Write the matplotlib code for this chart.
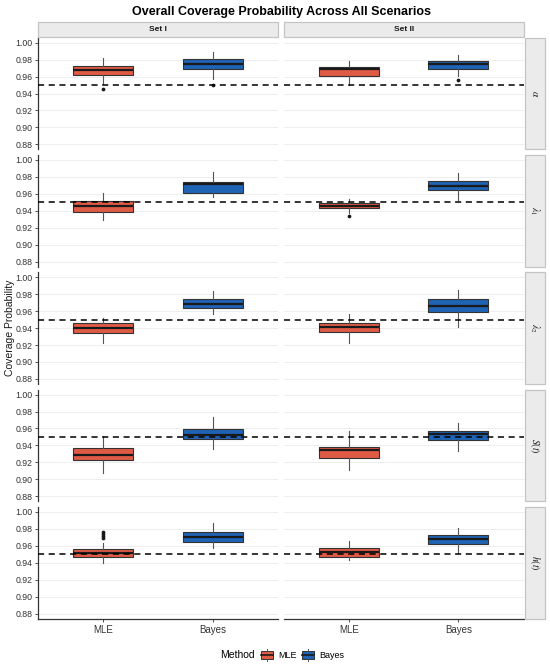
import matplotlib
matplotlib.use('Agg')
import matplotlib.pyplot as plt
from matplotlib.patches import Rectangle
from matplotlib.lines import Line2D

plt.rcParams['font.family'] = ['Liberation Sans', 'DejaVu Sans']
plt.rcParams['mathtext.fontset'] = 'stix'

W, H = 550, 665

# facet labels and groups
params = [r'$\alpha$', r'$\lambda_1$', r'$\lambda_2$', r'$S(t)$', r'$h(t)$']
sets = ['Set I', 'Set II']
methods = ['MLE', 'Bayes']
colors = {'MLE': '#E05B46', 'Bayes': '#1F63B5'}
nominal = 0.95
yticks = [0.88, 0.90, 0.92, 0.94, 0.96, 0.98, 1.00]

# boxplot stats, indexed [param][set][method]
whis_lo = [[[0.951, 0.9568], [0.950, 0.9607]],
           [[0.9292, 0.9567], [0.9377, 0.9528]],
           [[0.9228, 0.9567], [0.9228, 0.9417]],
           [[0.9071, 0.9359], [0.9111, 0.9331]],
           [[0.9391, 0.9568], [0.9430, 0.9509]]]
q1 = [[[0.9622, 0.9690], [0.9610, 0.9693]],
      [[0.9381, 0.9607], [0.9430, 0.9646]],
      [[0.9339, 0.9641], [0.9358, 0.9587]],
      [[0.9229, 0.9477], [0.9253, 0.9460]],
      [[0.9469, 0.9642], [0.9469, 0.9619]]]
med = [[[0.9678, 0.9745], [0.9685, 0.9745]],
       [[0.9460, 0.9713], [0.9460, 0.9693]],
       [[0.9405, 0.9688], [0.9410, 0.9661]],
       [[0.9292, 0.9524], [0.9342, 0.9536]],
       [[0.9509, 0.9705], [0.9521, 0.9678]]]
q3 = [[[0.9721, 0.9804], [0.9717, 0.9784]],
      [[0.9520, 0.9744], [0.9489, 0.9752]],
      [[0.9457, 0.9740], [0.9457, 0.9744]],
      [[0.9370, 0.9595], [0.9386, 0.9575]],
      [[0.9556, 0.9764], [0.9575, 0.9725]]]
whis_hi = [[[0.9823, 0.9887], [0.9784, 0.9855]],
           [[0.9607, 0.9855], [0.9535, 0.9843]],
           [[0.9516, 0.9842], [0.9567, 0.9850]],
           [[0.9508, 0.9740], [0.9575, 0.9661]],
           [[0.9634, 0.9863], [0.9654, 0.9804]]]
fliers = [[[[0.9455], [0.950]], [[], [0.956]]],
          [[[], []], [[0.9339], []]],
          [[[], []], [[], []]],
          [[[], []], [[], []]],
          [[[0.9693, 0.9713, 0.9733, 0.9757], []], [[], []]]]


def fx(px):
    return px / W


def fy(py):
    return 1 - py / H


fig = plt.figure(figsize=(W / 100, H / 100), dpi=100)

col_x = [(38, 278), (283.5, 524)]
row_top0, row_h, row_step = 37.6, 111.8, 117.3
strip_fc, strip_ec = '#EBEBEB', '#C4C4C4'

for r, p in enumerate(params):
    top = row_top0 + r * row_step
    for c, s in enumerate(sets):
        x0, x1 = col_x[c]
        ax = fig.add_axes([fx(x0), fy(top + row_h), fx(x1 - x0), row_h / H])
        stats = []
        for m in range(2):
            stats.append(dict(whislo=whis_lo[r][c][m], q1=q1[r][c][m], med=med[r][c][m],
                              q3=q3[r][c][m], whishi=whis_hi[r][c][m],
                              fliers=fliers[r][c][m]))
        bp = ax.bxp(stats, positions=[1, 2], widths=0.55, patch_artist=True,
                    showcaps=False,
                    boxprops=dict(edgecolor='#333333', linewidth=0.8),
                    medianprops=dict(color='#1a1a1a', linewidth=1.6),
                    whiskerprops=dict(color='#555555', linewidth=0.8),
                    flierprops=dict(marker='o', markersize=1.7, markerfacecolor='#1a1a1a',
                                    markeredgecolor='#1a1a1a'))
        for patch, m in zip(bp['boxes'], methods):
            patch.set_facecolor(colors[m])
        ax.axhline(nominal, color='black', linestyle=(0, (4, 3)), linewidth=1.1, zorder=5)

        ax.set_xlim(0.4, 2.6)
        ax.set_ylim(0.874, 1.006)
        ax.set_yticks(yticks)
        ax.yaxis.grid(True, color='#EBEBEB', linewidth=0.6)
        ax.set_axisbelow(True)
        for sp in ['top', 'right']:
            ax.spines[sp].set_visible(False)
        ax.spines['left'].set_visible(c == 0)
        ax.spines['bottom'].set_visible(r == len(params) - 1)
        for sp in ['left', 'bottom']:
            ax.spines[sp].set_color('#333333')
            ax.spines[sp].set_linewidth(0.9)
        ax.tick_params(axis='y', length=2.5, width=0.6, color='#333333',
                       labelsize=6.3, labelcolor='#333333', pad=1.5,
                       left=(c == 0), labelleft=(c == 0))
        ax.set_yticklabels(['%.2f' % v for v in yticks])
        ax.set_xticks([1, 2])
        if r == len(params) - 1:
            ax.set_xticklabels(methods)
            ax.tick_params(axis='x', length=2.5, width=0.6, color='#333333',
                           labelsize=7, labelcolor='#333333', pad=2)
        else:
            ax.tick_params(axis='x', bottom=False, labelbottom=False)

        # top strips
        if r == 0:
            fig.patches.append(Rectangle((fx(x0), fy(36.5)), fx(x1 - x0), 14.5 / H,
                                         transform=fig.transFigure, facecolor=strip_fc,
                                         edgecolor=strip_ec, linewidth=0.9))
            fig.text(fx((x0 + x1) / 2), fy(29.3), s, ha='center', va='center',
                     fontsize=6, fontweight='bold', color='#1a1a1a')

    # right strips
    fig.patches.append(Rectangle((fx(525), fy(top + row_h)), fx(19.5), row_h / H,
                                 transform=fig.transFigure, facecolor=strip_fc,
                                 edgecolor=strip_ec, linewidth=0.9))
    fig.text(fx(534.8), fy(top + row_h / 2), p, ha='center', va='center',
             rotation=-90, fontsize=7, color='#1a1a1a')

fig.text(fx(281), fy(12), 'Overall Coverage Probability Across All Scenarios',
         ha='center', va='center', fontsize=9, fontweight='bold')
fig.text(fx(10), fy(328), 'Coverage Probability', rotation=90, ha='center',
         va='center', fontsize=7.5, color='#1a1a1a')

# legend
fig.text(fx(220), fy(655), 'Method', ha='left', va='center', fontsize=7.5)
key_x = [261, 302]
for kx, m in zip(key_x, methods):
    fig.patches.append(Rectangle((fx(kx), fy(659)), fx(12), 8.5 / H,
                                 transform=fig.transFigure, facecolor=colors[m],
                                 edgecolor='#333333', linewidth=0.7))
    fig.lines.append(Line2D([fx(kx), fx(kx + 12)], [fy(654.7), fy(654.7)],
                            transform=fig.transFigure, color='#1a1a1a', linewidth=1.2))
    fig.lines.append(Line2D([fx(kx + 6), fx(kx + 6)], [fy(650.5), fy(648.5)],
                            transform=fig.transFigure, color='#555555', linewidth=0.7))
    fig.lines.append(Line2D([fx(kx + 6), fx(kx + 6)], [fy(659), fy(661)],
                            transform=fig.transFigure, color='#555555', linewidth=0.7))
    fig.text(fx(kx + 17), fy(655), m, ha='left', va='center', fontsize=6.5)

fig.savefig('out.png', dpi=100)
